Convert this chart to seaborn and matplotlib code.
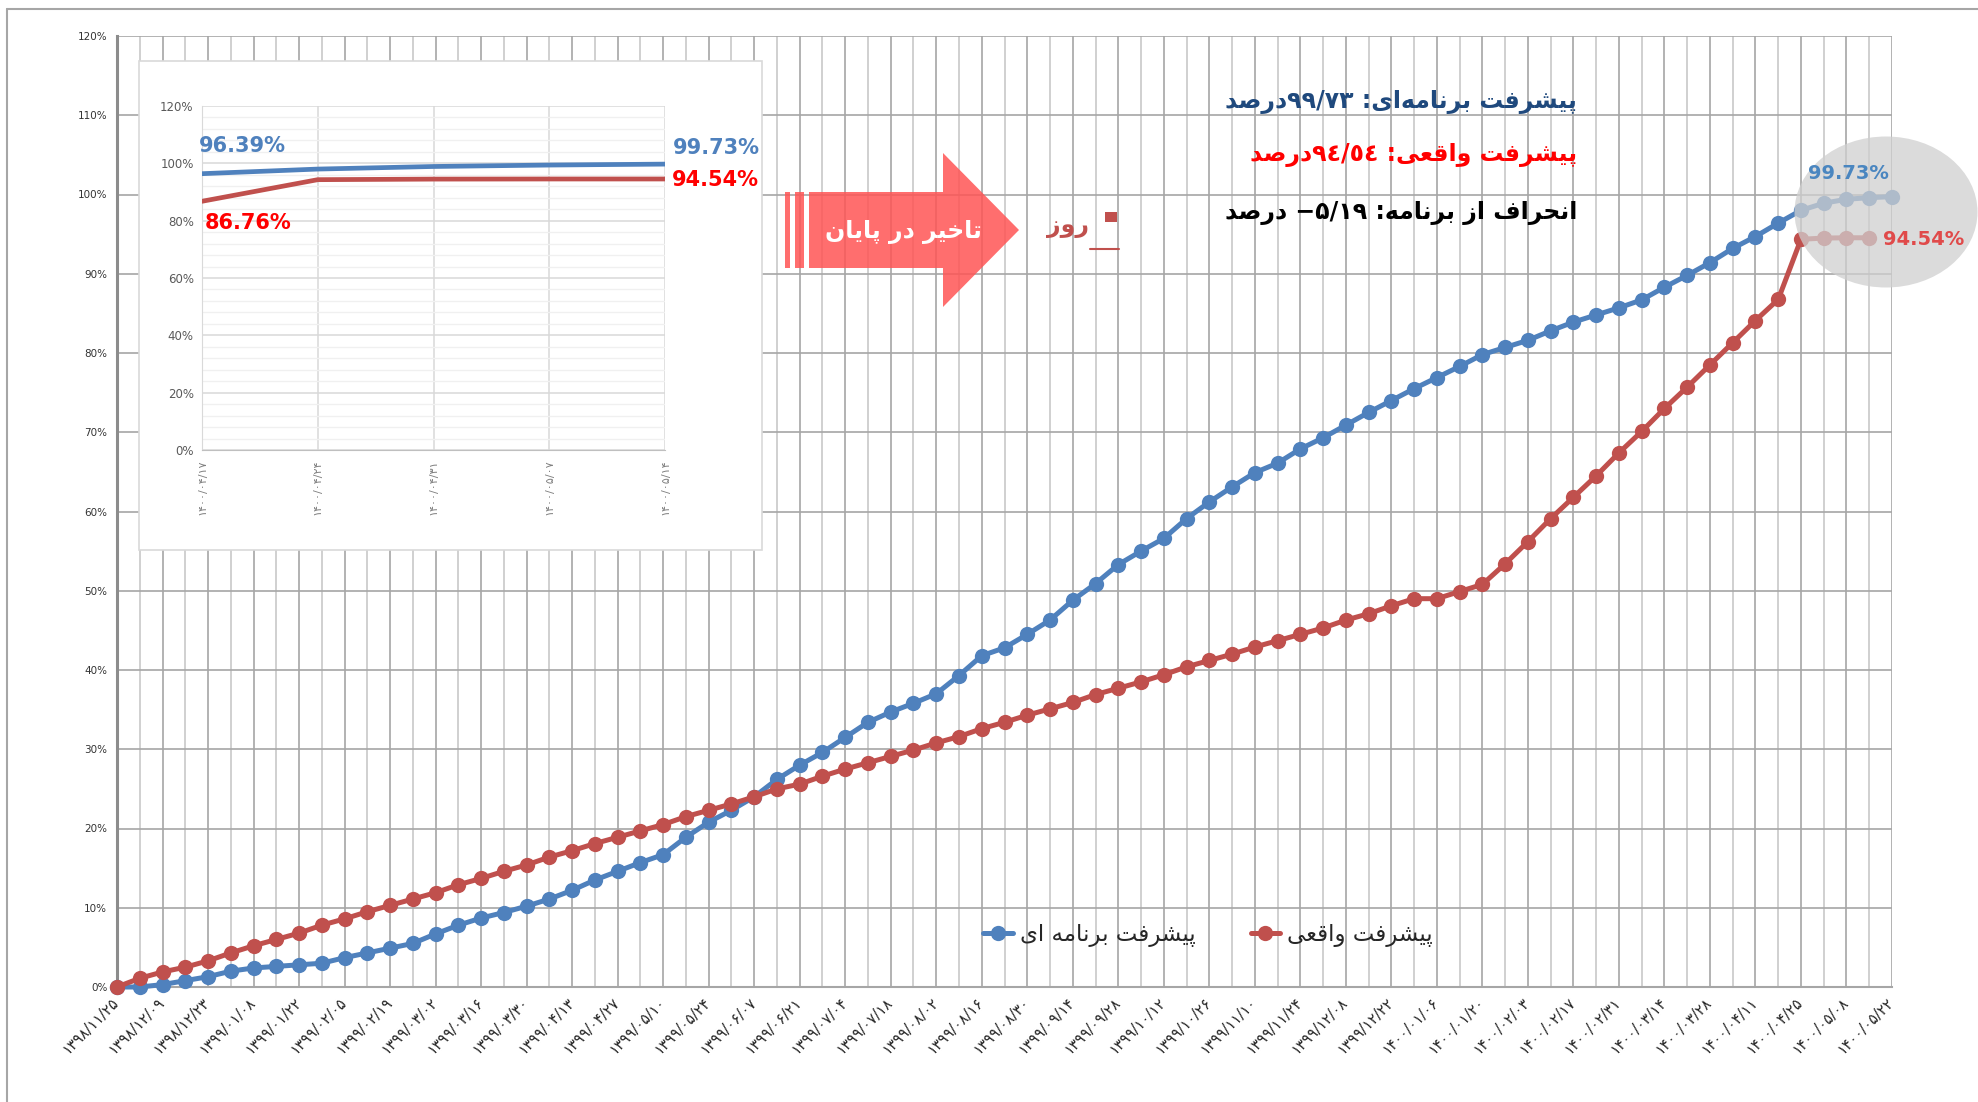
import matplotlib
matplotlib.use("Agg")
import matplotlib.pyplot as plt
import matplotlib.patches as mpatches
import matplotlib.lines as mlines
import seaborn as sns

# weekly report dates (Solar Hijri)
dates = [
    "1398/11/25", "1398/12/02", "1398/12/09", "1398/12/16", "1398/12/23",
    "1399/01/01", "1399/01/08", "1399/01/15", "1399/01/22", "1399/01/29",
    "1399/02/05", "1399/02/12", "1399/02/19", "1399/02/26", "1399/03/02",
    "1399/03/09", "1399/03/16", "1399/03/23", "1399/03/30", "1399/04/06",
    "1399/04/13", "1399/04/20", "1399/04/27", "1399/05/03", "1399/05/10",
    "1399/05/17", "1399/05/24", "1399/05/31", "1399/06/07", "1399/06/14",
    "1399/06/21", "1399/06/28", "1399/07/04", "1399/07/11", "1399/07/18",
    "1399/07/25", "1399/08/02", "1399/08/09", "1399/08/16", "1399/08/23",
    "1399/08/30", "1399/09/07", "1399/09/14", "1399/09/21", "1399/09/28",
    "1399/10/05", "1399/10/12", "1399/10/19", "1399/10/26", "1399/11/03",
    "1399/11/10", "1399/11/17", "1399/11/24", "1399/12/01", "1399/12/08",
    "1399/12/15", "1399/12/22", "1399/12/29", "1400/01/06", "1400/01/13",
    "1400/01/20", "1400/01/27", "1400/02/03", "1400/02/10", "1400/02/17",
    "1400/02/24", "1400/02/31", "1400/03/07", "1400/03/14", "1400/03/21",
    "1400/03/28", "1400/04/04", "1400/04/11", "1400/04/18", "1400/04/25",
    "1400/05/01", "1400/05/08", "1400/05/15", "1400/05/22",
]

# planned progress (%)
planned = [
    0.0, 0.0, 0.3, 0.8, 1.3, 2.0, 2.4, 2.6, 2.8, 3.0,
    3.7, 4.3, 4.9, 5.5, 6.7, 7.8, 8.7, 9.4, 10.2, 11.1,
    12.2, 13.5, 14.6, 15.7, 16.7, 18.9, 20.8, 22.3, 24.0, 26.2,
    28.0, 29.6, 31.5, 33.4, 34.7, 35.8, 37.0, 39.3, 41.8, 42.8,
    44.5, 46.3, 48.8, 50.9, 53.3, 55.0, 56.6, 59.1, 61.2, 63.1,
    64.9, 66.1, 67.9, 69.3, 70.9, 72.5, 74.0, 75.5, 76.9, 78.3,
    79.8, 80.7, 81.6, 82.8, 83.9, 84.8, 85.7, 86.7, 88.3, 89.8,
    91.4, 93.2, 94.7, 96.39, 98.0, 98.9, 99.4, 99.6, 99.73,
]

# actual progress (%)
actual = [
    0.0, 1.1, 1.9, 2.5, 3.3, 4.3, 5.2, 6.0, 6.8, 7.8,
    8.6, 9.5, 10.3, 11.1, 11.9, 12.9, 13.7, 14.6, 15.4, 16.4,
    17.2, 18.1, 18.9, 19.7, 20.5, 21.5, 22.3, 23.1, 24.0, 25.0,
    25.6, 26.6, 27.5, 28.3, 29.1, 29.9, 30.8, 31.6, 32.6, 33.4,
    34.3, 35.1, 35.9, 36.9, 37.7, 38.5, 39.4, 40.4, 41.2, 42.0,
    42.9, 43.7, 44.5, 45.3, 46.3, 47.1, 48.1, 49.0, 49.0, 49.9,
    50.8, 53.4, 56.2, 59.1, 61.8, 64.5, 67.4, 70.1, 73.0, 75.7,
    78.5, 81.3, 84.1, 86.76, 94.35, 94.5, 94.54, 94.54,
]

# zoomed inset, last five weeks
inset_dates = ["1400/04/17", "1400/04/24", "1400/04/31", "1400/05/07", "1400/05/14"]
inset_planned = [96.39, 98.0, 98.9, 99.4, 99.73]
inset_actual = [86.76, 94.3, 94.5, 94.54, 94.54]

planned_label = "پیشرفت برنامه ای"
actual_label = "پیشرفت واقعی"
planned_txt = "پیشرفت برنامه\u200cای: ۹۹/۷۳درصد"
actual_txt = "پیشرفت واقعی: ۹٤/٥٤درصد"
dev_txt = "انحراف از برنامه: ۵/۱۹− درصد"
delay_txt = "تاخیر در پایان"
day_txt = "روز"

BLUE = "#4F81BD"
RED = "#C0504D"

# --- tiny Arabic-script shaper (matplotlib does no shaping / bidi) ---
FORMS = {  # isolated, final, initial, medial
    "\u0627": "\uFE8D\uFE8E",
    "\u0628": "\uFE8F\uFE90\uFE91\uFE92",
    "\u067E": "\uFB56\uFB57\uFB58\uFB59",
    "\u062A": "\uFE95\uFE96\uFE97\uFE98",
    "\u062D": "\uFEA1\uFEA2\uFEA3\uFEA4",
    "\u062E": "\uFEA5\uFEA6\uFEA7\uFEA8",
    "\u062F": "\uFEA9\uFEAA",
    "\u0631": "\uFEAD\uFEAE",
    "\u0632": "\uFEAF\uFEB0",
    "\u0634": "\uFEB5\uFEB6\uFEB7\uFEB8",
    "\u0635": "\uFEB9\uFEBA\uFEBB\uFEBC",
    "\u0639": "\uFEC9\uFECA\uFECB\uFECC",
    "\u0641": "\uFED1\uFED2\uFED3\uFED4",
    "\u0642": "\uFED5\uFED6\uFED7\uFED8",
    "\u0645": "\uFEE1\uFEE2\uFEE3\uFEE4",
    "\u0646": "\uFEE5\uFEE6\uFEE7\uFEE8",
    "\u0647": "\uFEE9\uFEEA\uFEEB\uFEEC",
    "\u0648": "\uFEED\uFEEE",
    "\u06CC": "\uFEEF\uFEF0\uFEF3\uFEF4",
}
LTR = set("0123456789۰۱۲۳۴۵۶۷۸۹٠١٢٣٤٥٦٧٨٩/.%")
FA_DIGITS = str.maketrans("0123456789", "۰۱۲۳۴۵۶۷۸۹")


def fa(text):
    out = []
    for k, c in enumerate(text):
        f = FORMS.get(c)
        if f is None:
            if c != "\u200c":
                out.append(c)
            continue
        prev = text[k - 1] if k > 0 else ""
        nxt = text[k + 1] if k + 1 < len(text) else ""
        jp = prev in FORMS and len(FORMS[prev]) == 4
        jn = nxt in FORMS and len(f) == 4
        if jp and jn:
            out.append(f[3])
        elif jp:
            out.append(f[1])
        elif jn:
            out.append(f[2])
        else:
            out.append(f[0])
    s = "".join(out)[::-1]
    res, run = [], []
    for ch in s:
        if ch in LTR:
            run.append(ch)
        else:
            if run:
                res.append("".join(run[::-1]))
                run = []
            res.append(ch)
    if run:
        res.append("".join(run[::-1]))
    return "".join(res)


W, H = 1978, 1102


def fx(x):
    return x / W


def fy(y):
    return 1 - y / H


sns.set_style("white")
plt.rcParams["font.family"] = ["DejaVu Sans"]

fig = plt.figure(figsize=(W / 100, H / 100), dpi=100)
ax = fig.add_axes([fx(117), fy(987), fx(1892) - fx(117), fy(36) - fy(987)])

x_all = list(range(len(dates)))
sns.lineplot(x=x_all, y=planned, ax=ax, color=BLUE, lw=3.6, marker="o",
             markersize=11, markeredgewidth=0, label=fa(planned_label),
             zorder=3, clip_on=False)
sns.lineplot(x=x_all[:len(actual)], y=actual, ax=ax, color=RED, lw=3.6,
             marker="o", markersize=11, markeredgewidth=0,
             label=fa(actual_label), zorder=3, clip_on=False)

ax.set_xlim(0, len(dates) - 1)
ax.set_ylim(0, 120)
ax.set_xticks(x_all[::2])
ax.set_xticklabels([d.translate(FA_DIGITS) for d in dates[::2]], rotation=45,
                   ha="right", va="center", rotation_mode="anchor", fontsize=10.5)
ax.set_xticks(x_all[1::2], minor=True)
ax.set_yticks(range(0, 121, 10))
ax.set_yticklabels([f"{v}%" for v in range(0, 121, 10)], fontsize=7.5,
                   color="#333333")
ax.tick_params(axis="x", which="major", length=5, color="#A0A0A0", pad=4)
ax.tick_params(axis="x", which="minor", length=0)
ax.tick_params(axis="y", length=4, color="#888888", pad=3)
ax.grid(axis="x", which="major", color="#A6A6A6", lw=1.2)
ax.grid(axis="x", which="minor", color="#C8C8C8", lw=1.2)
ax.grid(axis="y", which="major", color="#A6A6A6", lw=1.2)
ax.set_axisbelow(True)
ax.spines["top"].set_visible(False)
ax.spines["right"].set_visible(False)
ax.spines["left"].set_color("#8C8C8C")
ax.spines["left"].set_linewidth(2.2)
ax.spines["bottom"].set_color("#A6A6A6")
ax.spines["bottom"].set_linewidth(1.5)
ax.set_xlabel("")
ax.set_ylabel("")

leg = ax.legend(loc="center", bbox_to_anchor=(fx(1208), fy(935)),
                bbox_transform=fig.transFigure, ncol=2, frameon=False,
                fontsize=16.5, handlelength=1.3, handletextpad=0.3,
                columnspacing=2.4)

# grey highlight around the last weeks
ell = mpatches.Ellipse((fx(1886), fy(212)), fx(183), 151 / H,
                       transform=fig.transFigure, facecolor="#CFCFCF",
                       alpha=0.75, edgecolor="none", zorder=4, clip_on=False)
ax.add_patch(ell)
ax.text(76.1, 102.6, f"{planned[-1]:.2f}%", color="#4A86C0", fontsize=14,
        fontweight="bold", ha="center", va="center", zorder=5, clip_on=False)
ax.text(77.6, 94.3, f"{actual[-1]:.2f}%", color="#E04A4A", fontsize=14,
        fontweight="bold", ha="left", va="center", zorder=5, clip_on=False)

# outer chart frame
fig.add_artist(mlines.Line2D([fx(7), fx(7)], [fy(9), 0], color="#A6A6A6",
                             lw=1.5, transform=fig.transFigure))
fig.add_artist(mlines.Line2D([fx(7), 1], [fy(9), fy(9)], color="#A6A6A6",
                             lw=1.5, transform=fig.transFigure))

# inset chart
box = mpatches.Rectangle((fx(139), fy(550)), fx(762) - fx(139), fy(61) - fy(550),
                         transform=fig.transFigure, facecolor="white",
                         edgecolor="#D9D9D9", lw=1.2, zorder=1)
fig.add_artist(box)
axin = fig.add_axes([fx(202), fy(450), fx(665) - fx(202), fy(106) - fy(450)],
                    zorder=2)
xi = list(range(len(inset_dates)))
sns.lineplot(x=xi, y=inset_planned, ax=axin, color=BLUE, lw=3.4, zorder=3)
sns.lineplot(x=xi, y=inset_actual, ax=axin, color=RED, lw=3.4, zorder=3)
axin.set_xlim(0, len(inset_dates) - 1)
axin.set_ylim(0, 120)
axin.set_xticks(xi)
axin.set_xticklabels([d.translate(FA_DIGITS) for d in inset_dates],
                     rotation=90, fontsize=8, color="#7F7F7F")
axin.set_yticks(range(0, 121, 20))
axin.set_yticklabels([f"{v}%" for v in range(0, 121, 20)], fontsize=8.5,
                     color="#595959")
axin.set_yticks(range(0, 121, 4), minor=True)
axin.tick_params(axis="both", which="both", length=0)
axin.tick_params(axis="x", pad=7)
axin.tick_params(axis="y", pad=6)
axin.grid(axis="y", which="major", color="#D9D9D9", lw=1.1)
axin.grid(axis="y", which="minor", color="#F0F0F0", lw=1.0)
axin.grid(axis="x", which="major", color="#D9D9D9", lw=1.1)
for s in ["top", "right"]:
    axin.spines[s].set_visible(False)
axin.spines["left"].set_color("#D9D9D9")
axin.spines["bottom"].set_color("#BFBFBF")
axin.set_xlabel("")
axin.set_ylabel("")
axin.text(-0.03, 106, f"{inset_planned[0]:.2f}%", color=BLUE, fontsize=15,
          fontweight="bold", ha="left", va="center", clip_on=False)
axin.text(4.82, 105.3, f"{inset_planned[-1]:.2f}%", color=BLUE, fontsize=15,
          fontweight="bold", ha="right", va="center", clip_on=False)
axin.text(4.06, 94.2, f"{inset_actual[-1]:.2f}%", color="#FF0000", fontsize=15,
          fontweight="bold", ha="left", va="center", clip_on=False)
axin.text(0.02, 79.2, f"{inset_actual[0]:.2f}%", color="#FF0000", fontsize=15,
          fontweight="bold", ha="left", va="center", clip_on=False)

# "delay at the end" arrow
arrow = mpatches.Polygon(
    [(fx(809), fy(192)), (fx(943), fy(192)), (fx(943), fy(153)),
     (fx(1019), fy(230)), (fx(943), fy(307)), (fx(943), fy(268)),
     (fx(809), fy(268))],
    closed=True, transform=fig.transFigure, facecolor="#FF5555",
    edgecolor="none", alpha=0.85, zorder=3)
fig.add_artist(arrow)
for x0, x1 in [(785, 790), (795, 804)]:
    fig.add_artist(mpatches.Rectangle((fx(x0), fy(268)), fx(x1) - fx(x0),
                                      fy(192) - fy(268), transform=fig.transFigure,
                                      facecolor="#FF5555", edgecolor="none",
                                      alpha=0.85, zorder=3))
fig.text(fx(903), fy(232), fa(delay_txt), color="white", fontsize=17,
         fontweight="bold", ha="center", va="center", zorder=4)
fig.text(fx(1068), fy(226), fa(day_txt), color=RED, fontsize=17,
         fontweight="bold", ha="center", va="center", zorder=4)
fig.add_artist(mpatches.Rectangle((fx(1105), fy(222)), fx(12), 10 / H,
                                  transform=fig.transFigure, facecolor=RED,
                                  edgecolor="none", zorder=4))
fig.add_artist(mlines.Line2D([fx(1090), fx(1119)], [fy(249), fy(249)],
                             color=RED, lw=1.5, transform=fig.transFigure,
                             zorder=4))

# summary texts
fig.text(fx(1577), fy(102), fa(planned_txt), color="#1F497D", fontsize=17,
         fontweight="bold", ha="right", va="center", zorder=4)
fig.text(fx(1577), fy(155), fa(actual_txt), color="#FF0000", fontsize=17,
         fontweight="bold", ha="right", va="center", zorder=4)
fig.text(fx(1577), fy(213), fa(dev_txt), color="black", fontsize=17,
         fontweight="bold", ha="right", va="center", zorder=4)

fig.savefig("out.png", dpi=100)
